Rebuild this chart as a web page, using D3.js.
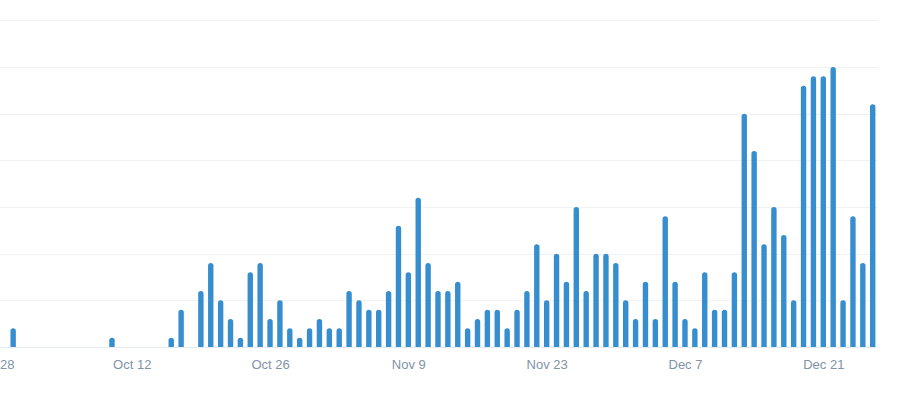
<!DOCTYPE html>
<html>
<head>
<meta charset="utf-8">
<script src="https://cdn.jsdelivr.net/npm/d3@7"></script>
<style>
  html, body { margin: 0; padding: 0; background: #fff; }
  svg { display: block; }
  .tick-label { font-family: "Liberation Sans", Arial, sans-serif; font-size: 13px; fill: #8193a5; }
</style>
</head>
<body>
<svg id="chart" width="900" height="395"></svg>
<script>
/* Daily counts, Sep 28 – Dec 26 */

const START_DATE = "2015-09-28";
const END_DATE = "2015-12-26";

// one value per day, Sep 28 .. Dec 26
const sepValues = [0, 0, 2];
const octValues = [
  0, 0, 0, 0, 0, 0, 0, 0, 0, 1,
  0, 0, 0, 0, 0, 1, 4, 0, 6, 9,
  5, 3, 1, 8, 9, 3, 5, 2, 1, 2,
  3,
];
const novValues = [
  2, 2, 6, 5, 4, 4, 6, 13, 8, 16,
  9, 6, 6, 7, 2, 3, 4, 4, 2, 4,
  6, 11, 5, 10, 7, 15, 6, 10, 10, 9,
];
const decValues = [
  5, 3, 7, 3, 14, 7, 3, 2, 8, 4,
  4, 8, 25, 21, 11, 15, 12, 5, 28, 29,
  29, 30, 5, 14, 9, 26,
];

const tickDates = ["2015-09-28", "2015-10-12", "2015-10-26", "2015-11-09", "2015-11-23", "2015-12-07", "2015-12-21"];
const gridValues = [0, 5, 10, 15, 20, 25, 30, 35];

const parse = d3.utcParse("%Y-%m-%d");
const allValues = [...sepValues, ...octValues, ...novValues, ...decValues];
const days = d3.utcDay.range(parse(START_DATE), d3.utcDay.offset(parse(END_DATE), 1));
const data = days.map((d, i) => ({ date: d, value: allValues[i] }));

const svg = d3.select("#chart");
const barColor = "#368ecf";
const barWidth = 5.4;

const x = d3.scaleUtc()
  .domain([parse(START_DATE), parse(END_DATE)])
  .range([-6.6, 872.7]);

const y = d3.scaleLinear()
  .domain([0, 35])
  .range([347, 20.3]);

// Gridlines
svg.append("g")
  .selectAll("line")
  .data(gridValues)
  .join("line")
  .attr("x1", 0)
  .attr("x2", 877.7)
  .attr("y1", d => Math.round(y(d)) + 0.5)
  .attr("y2", d => Math.round(y(d)) + 0.5)
  .attr("stroke", d => d === 0 ? "#e6ebf0" : "#f0f1f3")
  .attr("stroke-width", 1);

// Bars: rounded top, flat bottom
function barPath(d) {
  const cx = x(d.date);
  const x0 = cx - barWidth / 2;
  const x1 = cx + barWidth / 2;
  const yb = y(0);
  const yt = y(d.value);
  const r = Math.min(barWidth / 2, (yb - yt) / 2);
  return `M${x0},${yb}V${yt + r}Q${x0},${yt} ${x0 + r},${yt}H${x1 - r}Q${x1},${yt} ${x1},${yt + r}V${yb}Z`;
}

svg.append("g")
  .selectAll("path")
  .data(data.filter(d => d.value > 0))
  .join("path")
  .attr("d", barPath)
  .attr("fill", barColor);

// X axis labels (first one is clipped by the left edge, as in the source)
const fmt = d3.utcFormat("%b %-d");
const xAxis = d3.axisBottom(x)
  .tickValues(tickDates.map(parse))
  .tickFormat(fmt)
  .tickSize(0)
  .tickPadding(0);

const gx = svg.append("g")
  .attr("transform", "translate(0,369)")
  .call(xAxis);
gx.select(".domain").remove();
gx.selectAll("text")
  .attr("class", "tick-label")
  .attr("dy", 0)
  .attr("fill", null);
</script>
</body>
</html>
